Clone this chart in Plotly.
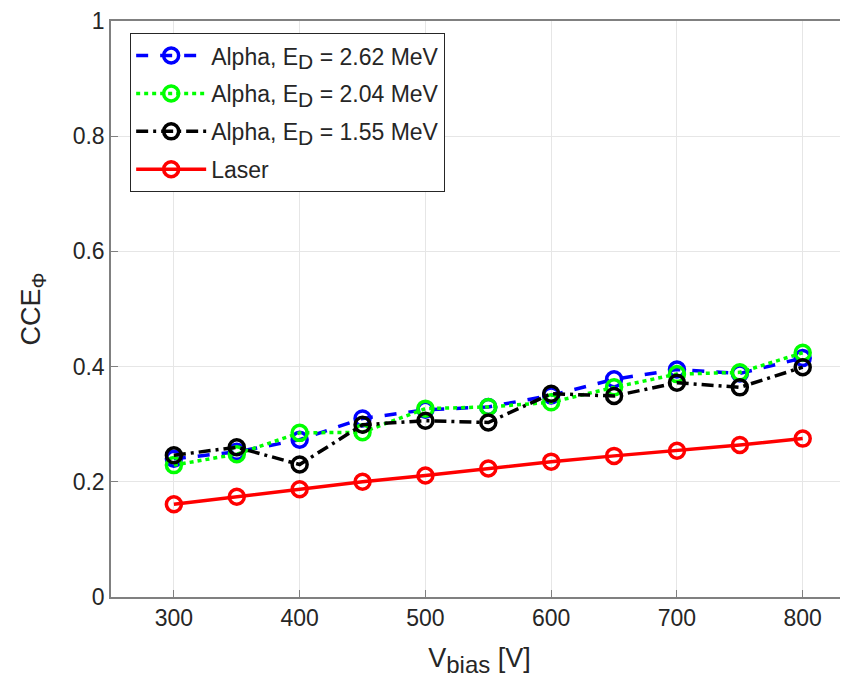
import plotly.graph_objects as go

v_bias = [300, 350, 400, 450, 500, 550, 600, 650, 700, 750, 800]
cce_262 = [0.240, 0.252, 0.273, 0.310, 0.325, 0.330, 0.350, 0.378, 0.395, 0.388, 0.415]
cce_204 = [0.229, 0.248, 0.285, 0.286, 0.327, 0.330, 0.338, 0.364, 0.387, 0.390, 0.424]
cce_155 = [0.246, 0.260, 0.230, 0.299, 0.306, 0.303, 0.353, 0.349, 0.372, 0.364, 0.399]
cce_laser = [0.161, 0.174, 0.187, 0.200, 0.211, 0.223, 0.235, 0.245, 0.254, 0.264, 0.275]

sub = '<sub><span style="font-size:21px">D</span></sub>'
names = [f"Alpha, E{sub} = 2.62 MeV", f"Alpha, E{sub} = 2.04 MeV",
         f"Alpha, E{sub} = 1.55 MeV", "Laser"]
series = [cce_262, cce_204, cce_155, cce_laser]
colors = ["#0000ff", "#00ff00", "#000000", "#ff0000"]
dashes = ["12px,12px", "4px,4px", "12px,5px,3px,5px", "solid"]

fig = go.Figure()
for i, (nm, ys, c, d) in enumerate(zip(names, series, colors, dashes)):
    fig.add_trace(go.Scatter(
        x=v_bias, y=ys, name=nm, mode="lines+markers",
        line=dict(color=c, width=3.5, dash=d),
        marker=dict(symbol="circle-open", size=15, color=c, line=dict(width=3.5, color=c)),
        legendgroup=f"g{i}",
    ))

font_family = "Liberation Sans, Arial, sans-serif"
fig.update_layout(
    width=840, height=679,
    margin=dict(l=103, r=0, t=6, b=90),
    paper_bgcolor="white", plot_bgcolor="white",
    font=dict(family=font_family, color="#262626"),
    showlegend=True,
    legend=dict(x=0.026, y=0.979, xanchor="left", yanchor="top",
                bgcolor="white", bordercolor="#262626", borderwidth=1,
                font=dict(size=23, family=font_family, color="#262626"),
                itemwidth=70, tracegroupgap=5),
    xaxis=dict(range=[250, 836], tickvals=[300, 400, 500, 600, 700, 800],
               showgrid=True, gridcolor="#e6e6e6", gridwidth=1,
               showline=True, linecolor="#808080", linewidth=1.5, mirror=True,
               ticks="inside", ticklen=7, tickcolor="#808080",
               tickfont=dict(size=23, color="#262626"),
               title=dict(text='V<sub><span style="font-size:24px">bias</span></sub> [V]',
                          font=dict(size=27, color="#262626"), standoff=18),
               zeroline=False),
    yaxis=dict(range=[0, 1], tickvals=[0, 0.2, 0.4, 0.6, 0.8, 1],
               ticktext=["0", "0.2", "0.4", "0.6", "0.8", "1"],
               ticklabeloverflow="allow",
               showgrid=True, gridcolor="#e6e6e6", gridwidth=1,
               showline=True, linecolor="#808080", linewidth=1.5, mirror=False,
               ticks="inside", ticklen=7, tickcolor="#808080",
               tickfont=dict(size=23, color="#262626"),
               title=dict(text='CCE<sub><span style="font-size:20px">Φ</span></sub>',
                          font=dict(size=27, color="#262626"), standoff=24),
               zeroline=False),
)

fig.write_html("out.html")
